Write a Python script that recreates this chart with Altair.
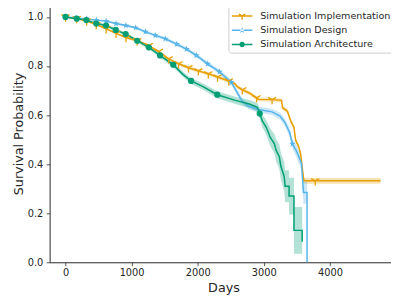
import math
import altair as alt
import pandas as pd

SERIES = ["Simulation Implementation", "Simulation Design", "Simulation Architecture"]
COLORS = ["#E69F00", "#56B4E9", "#009E73"]

# ---- Simulation Implementation (orange) ----
T_impl = [0, 170, 320, 465, 615, 765, 915, 1085, 1260, 1410,
          1560, 1710, 1860, 2010, 2160, 2300, 2470, 2560, 2600, 2675,
          2780, 2890, 2920, 3125, 3268, 3283, 3357, 3407, 3456, 3481,
          3530, 3556, 3580, 3605, 3778, 4765]
S_impl = [1.0, 0.993, 0.983, 0.969, 0.952, 0.933, 0.916, 0.903, 0.883, 0.859,
          0.829, 0.809, 0.793, 0.780, 0.768, 0.755, 0.739, 0.728, 0.716, 0.703,
          0.690, 0.670, 0.664, 0.663, 0.660, 0.630, 0.616, 0.576, 0.550, 0.497,
          0.470, 0.443, 0.390, 0.332, 0.332, 0.332]
HW_impl = [0, 0.002, 0.003, 0.003, 0.004, 0.004, 0.005, 0.005, 0.005, 0.006,
           0.006, 0.006, 0.007, 0.007, 0.007, 0.007, 0.008, 0.008, 0.008, 0.008,
           0.008, 0.008, 0.008, 0.008, 0.008, 0.009, 0.009, 0.010, 0.010, 0.011,
           0.011, 0.012, 0.012, 0.012, 0.012, 0.012]
MK_impl = [1, 1, 1, 1, 1, 1, 1, 1, 1, 1,
           1, 1, 1, 1, 1, 1, 1, 0, 0, 1,
           0, 1, 0, 1, 0, 0, 0, 0, 0, 0,
           0, 0, 0, 0, 1, 0]

# ---- Simulation Design (blue) ----
T_des = [0, 160, 317, 466, 615, 764, 913, 1062, 1210, 1359,
         1510, 1682, 1830, 1979, 2150, 2330, 2510, 2574, 2674, 2770,
         2920, 3125, 3245, 3320, 3390, 3432, 3500, 3570, 3600, 3654,
         3654]
S_des = [1.0, 0.996, 0.992, 0.987, 0.983, 0.973, 0.965, 0.956, 0.939, 0.925,
         0.911, 0.889, 0.869, 0.843, 0.809, 0.776, 0.733, 0.703, 0.656, 0.636,
         0.623, 0.613, 0.596, 0.569, 0.529, 0.483, 0.450, 0.403, 0.284, 0.284,
         0.0]
HW_des = [0, 0.002, 0.003, 0.003, 0.004, 0.004, 0.005, 0.005, 0.006, 0.006,
          0.007, 0.007, 0.008, 0.008, 0.009, 0.010, 0.011, 0.011, 0.012, 0.012,
          0.012, 0.013, 0.014, 0.016, 0.018, 0.020, 0.025, 0.030, 0.045, 0.045,
          0.0]
MK_des = [1, 1, 1, 1, 1, 1, 1, 1, 1, 1,
          1, 1, 1, 1, 1, 1, 1, 0, 0, 0,
          0, 0, 0, 0, 0, 1, 0, 0, 0, 0,
          0]

# ---- Simulation Architecture (green) ----
T_arch = [0, 170, 315, 465, 614, 760, 910, 1085, 1260, 1430,
          1630, 1780, 1900, 2080, 2296, 2570, 2780, 2900, 2938, 2977,
          3037, 3096, 3160, 3185, 3234, 3259, 3308, 3323, 3382, 3382,
          3456, 3456, 3580, 3580]
S_arch = [1.0, 0.993, 0.987, 0.973, 0.965, 0.947, 0.930, 0.903, 0.876, 0.843,
          0.805, 0.765, 0.739, 0.716, 0.683, 0.660, 0.645, 0.632, 0.606, 0.576,
          0.550, 0.510, 0.483, 0.457, 0.430, 0.390, 0.350, 0.310, 0.310, 0.270,
          0.270, 0.130, 0.130, 0.084]
HW_arch = [0, 0.003, 0.004, 0.005, 0.006, 0.006, 0.007, 0.008, 0.008, 0.009,
           0.010, 0.011, 0.012, 0.013, 0.014, 0.015, 0.016, 0.018, 0.020, 0.025,
           0.030, 0.035, 0.040, 0.045, 0.050, 0.055, 0.060, 0.065, 0.065, 0.075,
           0.075, 0.095, 0.095, 0.050]
MK_arch = [1, 1, 1, 1, 1, 1, 1, 1, 1, 1,
           1, 0, 1, 0, 1, 0, 0, 0, 1, 0,
           0, 0, 0, 0, 0, 0, 0, 0, 0, 0,
           0, 0, 0, 0]

X_TICKS = [0, 1000, 2000, 3000, 4000]
Y_TICKS = [0.0, 0.2, 0.4, 0.6, 0.8, 1.0]


# ---- marker glyphs (style only) ----
def seg(x1, y1, x2, y2, w):
    dx, dy = x2 - x1, y2 - y1
    L = math.hypot(dx, dy)
    nx, ny = -dy / L * w, dx / L * w
    pts = [(x1 + nx, y1 + ny), (x2 + nx, y2 + ny), (x2 - nx, y2 - ny), (x1 - nx, y1 - ny)]
    return "M" + "L".join(f"{a:.3f},{b:.3f}" for a, b in pts) + "Z"


def tri_down(cx, cy, r, w):
    return (seg(cx, cy, cx, cy + r, w) + seg(cx, cy, cx - 0.866 * r, cy - 0.5 * r, w)
            + seg(cx, cy, cx + 0.866 * r, cy - 0.5 * r, w))


def star(cx, cy, r):
    pts = []
    for k in range(10):
        ang = math.radians(-90 + 36 * k)
        rr = r if k % 2 == 0 else r * 0.382
        pts.append((cx + rr * math.cos(ang), cy + rr * math.sin(ang)))
    return "M" + "L".join(f"{a:.3f},{b:.3f}" for a, b in pts) + "Z"


def circ(cx, cy, r):
    return (f"M{cx - r:.3f},{cy:.3f}A{r:.3f},{r:.3f} 0 1,0 {cx + r:.3f},{cy:.3f}"
            f"A{r:.3f},{r:.3f} 0 1,0 {cx - r:.3f},{cy:.3f}Z")


MARKER_PATHS = [tri_down(0, 0, 1, 0.14), star(0, 0, 1), "circle"]
MARKER_SIZES = [92, 52, 40]
line_seg = seg(-1, 0, 2, 0, 0.105)
LEGEND_PATHS = [line_seg + tri_down(0.5, 0, 0.55, 0.1),
                line_seg + star(0.5, 0, 0.5),
                line_seg + circ(0.5, 0, 0.4)]

rows = []
for si, (T, S, HW, MK) in enumerate([(T_impl, S_impl, HW_impl, MK_impl),
                                      (T_des, S_des, HW_des, MK_des),
                                      (T_arch, S_arch, HW_arch, MK_arch)]):
    for i, (t, s, h, m) in enumerate(zip(T, S, HW, MK)):
        rows.append({"series": SERIES[si], "idx": i, "t": t, "s": s,
                     "lo": max(0.0, s - h), "hi": min(1.0, s + h), "mk": m,
                     "mpath": MARKER_PATHS[si], "msize": MARKER_SIZES[si]})
df = pd.DataFrame(rows)

xscale = alt.Scale(domain=[-240, 5020], nice=False, zero=False)
yscale = alt.Scale(domain=[0, 1.05], nice=False, zero=False)
xaxis = alt.Axis(values=X_TICKS, format="d", title="Days", titleY=30,
                 titleBaseline="alphabetic", labelPadding=2)
yaxis = alt.Axis(values=Y_TICKS, format=".1f", title="Survival Probability",
                 titleX=-27.8, titleBaseline="alphabetic", labelPadding=3.5)
# drawing layers: same mapping, domain listed in reverse so that this scale is
# kept apart from the legend's fill/shape scales
color = alt.Color("series:N",
                  scale=alt.Scale(domain=SERIES[::-1], range=COLORS[::-1]),
                  legend=None)

base = alt.Chart(df)

band = base.mark_area(fillOpacity=0.3, interpolate="linear").encode(
    x=alt.X("t:Q", scale=xscale, axis=xaxis),
    y=alt.Y("lo:Q", scale=yscale, axis=yaxis),
    y2=alt.Y2("hi:Q"),
    color=color,
)

line = base.mark_line(strokeWidth=1.5).encode(
    x=alt.X("t:Q", scale=xscale, axis=xaxis),
    y=alt.Y("s:Q", scale=yscale, axis=yaxis),
    color=color,
    order="idx:Q",
)

marks = base.transform_filter("datum.mk == 1").mark_point(
    filled=True, opacity=1, strokeWidth=0).encode(
    x=alt.X("t:Q", scale=xscale, axis=xaxis),
    y=alt.Y("s:Q", scale=yscale, axis=yaxis),
    color=color,
    shape=alt.Shape("mpath:N", scale=None),
    size=alt.Size("msize:Q", scale=None),
)

LEG = alt.Legend(title=None, orient="none", legendX=182.5, legendY=1,
                 symbolSize=196, symbolStrokeWidth=0, labelOffset=15,
                 labelFontSize=9.8, labelFont="DejaVu Sans", labelColor="#262626",
                 rowPadding=2.6, padding=3.5, fillColor="rgba(255,255,255,0.8)",
                 strokeColor="#cccccc", cornerRadius=3, labelLimit=300)

legend_layer = base.transform_filter("false").mark_point(
    filled=True, opacity=1, strokeWidth=0).encode(
    x=alt.X("t:Q", scale=xscale, axis=xaxis),
    y=alt.Y("s:Q", scale=yscale, axis=yaxis),
    fill=alt.Fill("series:N", scale=alt.Scale(domain=SERIES, range=COLORS), legend=LEG),
    shape=alt.Shape("series:N", scale=alt.Scale(domain=SERIES, range=LEGEND_PATHS), legend=LEG),
)

chart = alt.layer(band, line, marks, legend_layer).properties(
    width=355, height=263,
    autosize=alt.AutoSizeParams(type="none"),
    padding={"left": 42.5, "top": -6.5, "right": -6.5, "bottom": 40},
).configure_view(
    stroke="#262626", strokeWidth=1
).configure_axis(
    domain=False, grid=False, tickColor="#262626", tickSize=3.5, tickWidth=0.8,
    labelFont="DejaVu Sans", labelFontSize=10, labelColor="#262626",
    titleFont="DejaVu Sans", titleFontSize=13, titleFontWeight="normal",
    titleColor="#262626",
)

chart.save("out.html", embed_options={"renderer": "svg", "actions": False})
